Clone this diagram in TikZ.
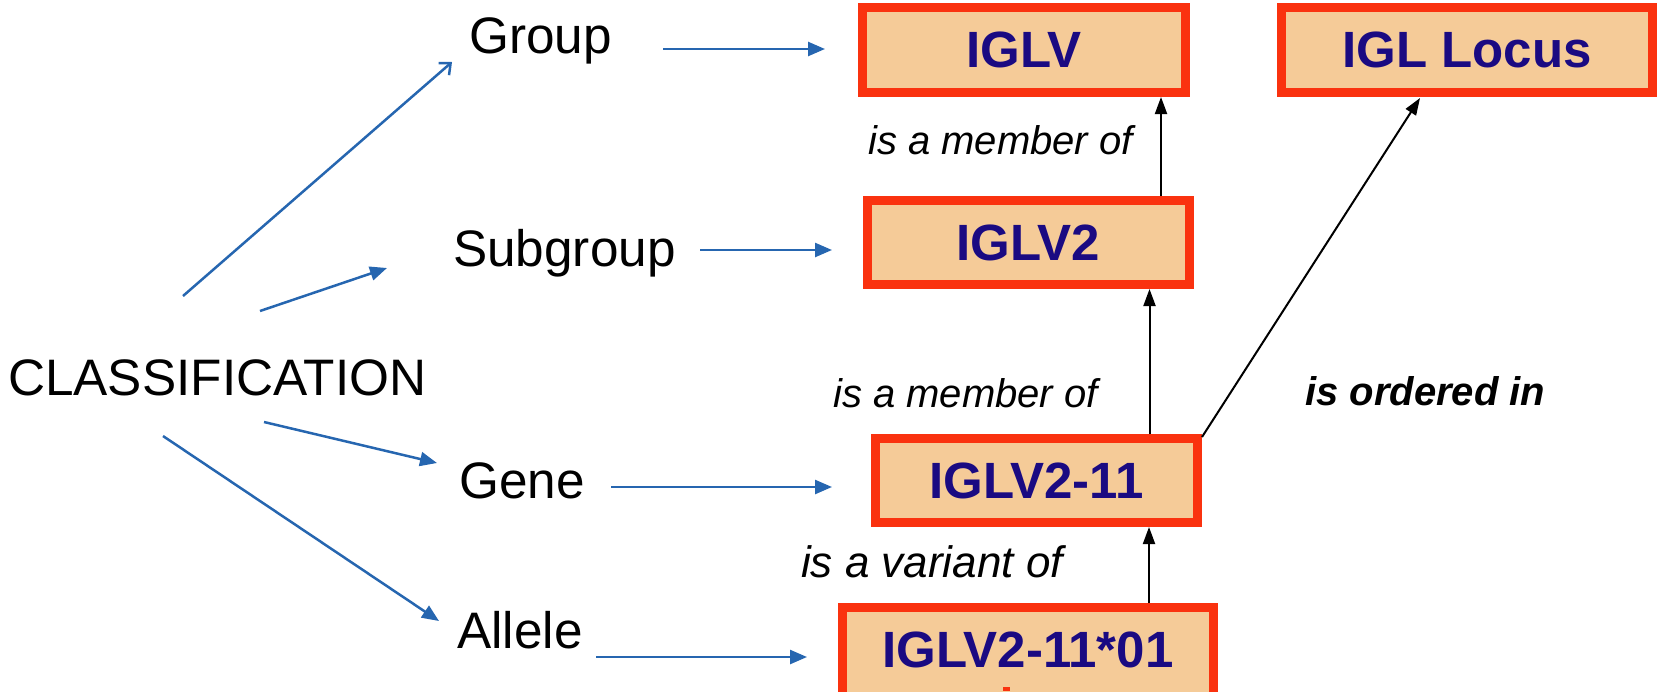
\documentclass[tikz,border=0pt]{standalone}
\usepackage{fontspec}
\setmainfont{Liberation Sans}
\usetikzlibrary{arrows.meta,calc}
\definecolor{boxred}{RGB}{250,50,15}
\definecolor{boxfill}{RGB}{245,203,152}
\definecolor{navy}{RGB}{26,10,130}
\definecolor{arrblue}{RGB}{38,102,176}
\tikzset{
  box/.style={draw=boxred, line width=9pt, fill=boxfill, inner sep=0pt, text=navy,
    font=\fontsize{51}{61}\selectfont\bfseries},
  lbl/.style={inner sep=0pt, anchor=base west, font=\fontsize{51.3}{61}\selectfont},
  rel/.style={inner sep=0pt, anchor=base west, font=\fontsize{40}{48}\selectfont\itshape},
  barrow/.style={draw=arrblue, line width=2.5pt, -{Triangle[length=17pt,width=14pt]}},
  oarrow/.style={draw=arrblue, line width=2.5pt, -{Straight Barb[length=9pt,width=16pt,line width=2.5pt]}},
  karrow/.style={draw=black, line width=2pt, -{Triangle[length=17pt,width=12pt]}}
}
\begin{document}
\begin{tikzpicture}[x=1pt,y=-1pt]
\useasboundingbox (0,0) rectangle (1664,691);
\clip (0,0) rectangle (1664,691);

% classification labels
\node[lbl] (cls) at (8,395) {CLASSIFICATION};
\node[lbl] (group) at (469,53) {Group};
\node[lbl] (subgroup) at (453,266) {Subgroup};
\node[lbl] (gene) at (459,498) {Gene};
\node[lbl] (allele) at (457,648) {Allele};

% boxes
\node[box, minimum width=323pt, minimum height=85pt] (iglv) at (1024,50) {IGLV};
\node[box, minimum width=371pt, minimum height=85pt] (igllocus) at (1467,50) {IGL Locus};
\node[box, minimum width=322pt, minimum height=84pt] (iglv2) at (1028.5,242.5) {IGLV2};
\node[box, minimum width=322pt, minimum height=84pt] (iglv211) at (1036.5,480.5) {IGLV2-11};
\node[box, minimum width=371pt, minimum height=108pt, text depth=23pt] (iglv21101) at (1028,661.5) {IGLV2-11*01};
\fill[boxred] (1003,687) rectangle (1010,691);

% relation labels
\node[rel] (m1) at (868,154) {is a member of};
\node[rel] (m2) at (833,407) {is a member of};
\node[rel, font=\fontsize{44}{52}\selectfont\itshape] (var) at (801,577) {is a variant of};
\node[rel, font=\fontsize{40}{48}\selectfont\bfseries\itshape] (ord) at (1305,405) {is ordered in};

% blue arrows from CLASSIFICATION
\draw[oarrow] ($(cls.base west)+(175,-99)$) -- ($(group.base west)+(-17,9)$);
\draw[barrow] ($(cls.base west)+(252,-84)$) -- ($(subgroup.base west)+(-66,2)$);
\draw[barrow] ($(cls.base west)+(256,27)$) -- ($(gene.base west)+(-22,-35)$);
\draw[barrow] ($(cls.base west)+(155,41)$) -- ($(allele.base west)+(-18,-27)$);

% blue arrows to boxes
\draw[barrow] ($(group.base west)+(194,-4)$) -- ($(iglv.west)+(-33,-1)$);
\draw[barrow] ($(subgroup.base west)+(247,-16)$) -- ($(iglv2.west)+(-31,7.5)$);
\draw[barrow] ($(gene.base west)+(152,-11)$) -- ($(iglv211.west)+(-39,6.5)$);
\draw[barrow] ($(allele.base west)+(139,9)$) -- ($(iglv21101.west)+(-31,-4.5)$);

% black relation arrows
\draw[karrow] ($(iglv2.north)+(132.5,0)$) -- ($(iglv.south)+(137,0)$);
\draw[karrow] ($(iglv211.north)+(113,0)$) -- ($(iglv2.south)+(121,0)$);
\draw[karrow] ($(iglv21101.north)+(121,0)$) -- ($(iglv211.south)+(112.5,0)$);
\draw[karrow] ($(iglv211.north east)+(0,3)$) -- ($(igllocus.south)+(-47,1)$);
\end{tikzpicture}
\end{document}
